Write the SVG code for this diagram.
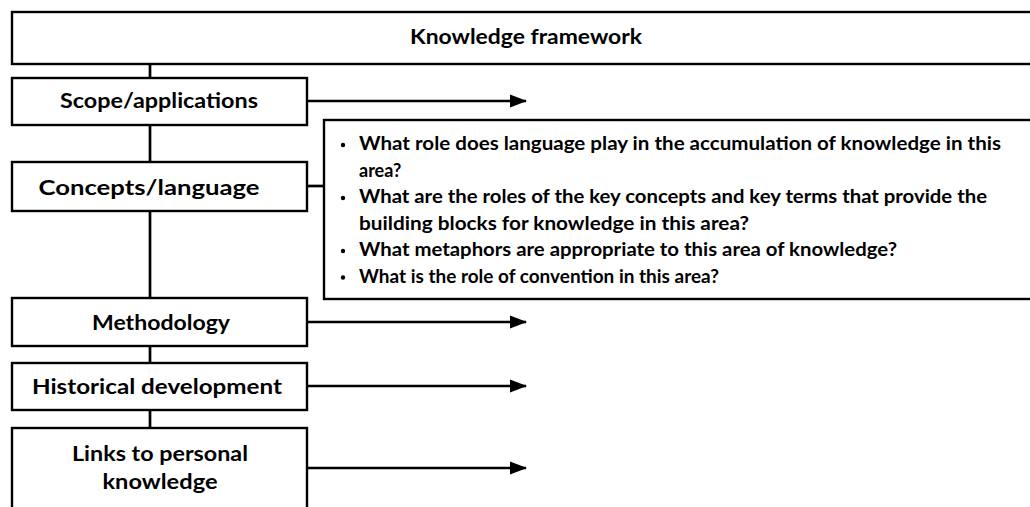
<svg xmlns="http://www.w3.org/2000/svg" width="1030" height="507" viewBox="0 0 1030 507">
<style>
.box{fill:#fff;stroke:#000;stroke-width:2.4}
.lbl{font-family:Lato,"Open Sans","Liberation Sans",sans-serif;font-weight:700;font-size:20px;fill:#000;text-anchor:middle}
.q{font-family:Lato,"Open Sans","Liberation Sans",sans-serif;font-weight:700;font-size:18px;fill:#000}
.ln{stroke:#000;stroke-width:2.7;fill:none}
.dot{fill:#000}
</style>
<defs>
<marker id="ah" markerWidth="17" markerHeight="14" refX="16" refY="7" orient="auto" markerUnits="userSpaceOnUse">
<path d="M0,0.5 L17,7 L0,13.5 Z" fill="#000"/>
</marker>
</defs>
<rect width="1030" height="507" fill="#fff"/>
<g id="connectors">
<line class="ln" x1="150" y1="64" x2="150" y2="78"/>
<line class="ln" x1="150" y1="124" x2="150" y2="162"/>
<line class="ln" x1="150" y1="211" x2="150" y2="298"/>
<line class="ln" x1="150" y1="346" x2="150" y2="363"/>
<line class="ln" x1="150" y1="410" x2="150" y2="428"/>
<line class="ln" x1="307" y1="186" x2="324" y2="186"/>
<line class="ln" x1="307" y1="101" x2="526" y2="101" marker-end="url(#ah)"/>
<line class="ln" x1="307" y1="322" x2="526" y2="322" marker-end="url(#ah)"/>
<line class="ln" x1="307" y1="386" x2="526" y2="386" marker-end="url(#ah)"/>
<line class="ln" x1="307" y1="468" x2="526" y2="468" marker-end="url(#ah)"/>
</g>
<g id="knowledge-framework">
<rect class="box" x="12" y="12" width="1030" height="52"/>
<text class="lbl" x="526" y="44" textLength="232" lengthAdjust="spacingAndGlyphs">Knowledge framework</text>
</g>
<g id="scope">
<rect class="box" x="12" y="78" width="295" height="47"/>
<text class="lbl" x="159" y="108" textLength="198" lengthAdjust="spacingAndGlyphs">Scope/applications</text>
</g>
<g id="concepts">
<rect class="box" x="12" y="162" width="295" height="49"/>
<text class="lbl" x="149" y="195" textLength="221" lengthAdjust="spacingAndGlyphs">Concepts/language</text>
</g>
<g id="questions">
<rect class="box" x="324" y="120" width="720" height="179"/>
<circle class="dot" cx="343" cy="145" r="2.2"/>
<text class="q" x="359" y="150" textLength="642" lengthAdjust="spacingAndGlyphs">What role does language play in the accumulation of knowledge in this</text>
<text class="q" x="359" y="176.5">area?</text>
<circle class="dot" cx="343" cy="198" r="2.2"/>
<text class="q" x="359" y="203" textLength="628" lengthAdjust="spacingAndGlyphs">What are the roles of the key concepts and key terms that provide the</text>
<text class="q" x="359" y="229.5" textLength="390" lengthAdjust="spacingAndGlyphs">building blocks for knowledge in this area?</text>
<circle class="dot" cx="343" cy="251" r="2.2"/>
<text class="q" x="359" y="256" textLength="538" lengthAdjust="spacingAndGlyphs">What metaphors are appropriate to this area of knowledge?</text>
<circle class="dot" cx="343" cy="277.5" r="2.2"/>
<text class="q" x="359" y="282.5" textLength="360" lengthAdjust="spacingAndGlyphs">What is the role of convention in this area?</text>
</g>
<g id="methodology">
<rect class="box" x="12" y="298" width="295" height="48"/>
<text class="lbl" x="161" y="330" textLength="138" lengthAdjust="spacingAndGlyphs">Methodology</text>
</g>
<g id="historical">
<rect class="box" x="12" y="363" width="295" height="47"/>
<text class="lbl" x="157" y="394" textLength="250" lengthAdjust="spacingAndGlyphs">Historical development</text>
</g>
<g id="links">
<rect class="box" x="12" y="428" width="295" height="100"/>
<text class="lbl" x="160" y="461" textLength="176" lengthAdjust="spacingAndGlyphs">Links to personal</text>
<text class="lbl" x="160" y="489" textLength="115" lengthAdjust="spacingAndGlyphs">knowledge</text>
</g>
</svg>
